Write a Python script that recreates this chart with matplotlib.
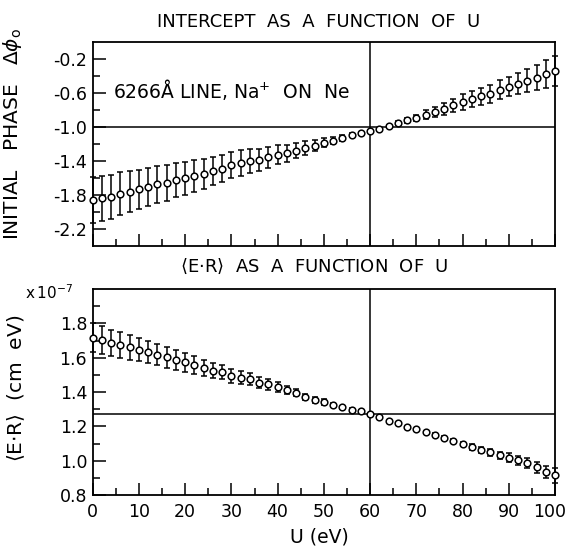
import numpy as np
import matplotlib
matplotlib.use("Agg")
import matplotlib.pyplot as plt
import matplotlib.transforms as mtransforms
from matplotlib.ticker import MultipleLocator

plt.rcParams['font.family'] = ['DejaVu Sans']
plt.rcParams['axes.unicode_minus'] = False
plt.rcParams['mathtext.fontset'] = 'dejavusans'

# impact energy U (eV)
u = [0, 2, 4, 6, 8, 10, 12, 14, 16, 18, 20, 22, 24, 26, 28, 30, 32, 34, 36, 38,
     40, 42, 44, 46, 48, 50, 52, 54, 56, 58, 60, 62, 64, 66, 68, 70, 72, 74, 76, 78,
     80, 82, 84, 86, 88, 90, 92, 94, 96, 98, 100]

# initial phase (intercept) and its error
phase = [-1.861, -1.838, -1.823, -1.784, -1.761, -1.734, -1.707, -1.676, -1.657, -1.629,
         -1.606, -1.579, -1.553, -1.521, -1.490, -1.452, -1.425, -1.406, -1.386, -1.359,
         -1.328, -1.309, -1.282, -1.251, -1.220, -1.185, -1.162, -1.135, -1.097, -1.078,
         -1.050, -1.020, -0.988, -0.950, -0.922, -0.896, -0.857, -0.826, -0.788, -0.749,
         -0.710, -0.675, -0.640, -0.610, -0.562, -0.527, -0.492, -0.459, -0.421, -0.382,
         -0.343]
phase_err = [0.27, 0.263, 0.26, 0.25, 0.24, 0.23, 0.22, 0.215, 0.21, 0.20,
             0.195, 0.185, 0.175, 0.165, 0.16, 0.155, 0.15, 0.14, 0.13, 0.12,
             0.11, 0.10, 0.09, 0.08, 0.065, 0.055, 0.045, 0.035, 0.025, 0.018,
             0.01, 0.01, 0.015, 0.02, 0.03, 0.04, 0.05, 0.064, 0.07, 0.08,
             0.09, 0.095, 0.10, 0.105, 0.11, 0.115, 0.125, 0.135, 0.145, 0.165,
             0.18]

# <E.R> in units of 1e-7 cm eV and its error
er = [1.717, 1.704, 1.685, 1.675, 1.660, 1.646, 1.633, 1.618, 1.602, 1.589,
      1.573, 1.555, 1.540, 1.525, 1.516, 1.492, 1.483, 1.473, 1.454, 1.444,
      1.429, 1.412, 1.396, 1.371, 1.354, 1.342, 1.325, 1.310, 1.295, 1.287,
      1.271, 1.252, 1.229, 1.217, 1.198, 1.185, 1.165, 1.152, 1.133, 1.117,
      1.098, 1.079, 1.064, 1.050, 1.031, 1.017, 1.002, 0.987, 0.963, 0.935,
      0.915]
er_err = [0.084, 0.08, 0.078, 0.075, 0.072, 0.068, 0.066, 0.063, 0.06, 0.058,
          0.055, 0.052, 0.049, 0.046, 0.043, 0.04, 0.037, 0.035, 0.032, 0.03,
          0.027, 0.025, 0.022, 0.02, 0.017, 0.015, 0.012, 0.01, 0.01, 0.008,
          0.006, 0.004, 0.0, 0.0, 0.0, 0.0, 0.005, 0.008, 0.01, 0.01,
          0.012, 0.016, 0.018, 0.02, 0.022, 0.025, 0.028, 0.03, 0.032, 0.035,
          0.044]

u_ref = 60
phase_ref = -1.0
er_ref = 1.271

u_ticks = [0, 10, 20, 30, 40, 50, 60, 70, 80, 90, 100]
phase_ticks = [-0.2, -0.6, -1.0, -1.4, -1.8, -2.2]
er_ticks = [0.8, 1.0, 1.2, 1.4, 1.6, 1.8]

W, H = 568, 548
fig = plt.figure(figsize=(W / 100, H / 100), dpi=100)
ax1 = fig.add_axes([92.7 / W, 1 - 246 / H, 462.3 / W, 204.3 / H])
ax2 = fig.add_axes([92.7 / W, 1 - 495 / H, 462.3 / W, 206 / H])


def draw_points(ax, x, y, err):
    x = np.asarray(x)
    y = np.asarray(y)
    err = np.asarray(err)
    has_err = err > 0
    ax.errorbar(x[has_err], y[has_err], yerr=err[has_err], fmt='none',
                ecolor='black', elinewidth=1.1, capsize=2.4, capthick=1.1,
                clip_on=False, zorder=3)
    ax.plot(x, y, 'o', ms=4.8, mfc='white', mec='black', mew=1.1,
            clip_on=False, zorder=4)


def style_axis(ax):
    ax.set_xlim(0, 100)
    ax.set_xticks(u_ticks)
    ax.xaxis.set_minor_locator(MultipleLocator(5))
    ax.tick_params(which='both', direction='in', top=False, right=False,
                   width=1.1, colors='black')
    ax.tick_params(which='major', length=9)
    ax.tick_params(which='minor', length=5)
    ax.tick_params(axis='y', labelsize=12.5, pad=4)
    ax.tick_params(axis='x', labelsize=12.5, pad=6)
    for sp in ax.spines.values():
        sp.set_linewidth(1.3)


# top panel: intercept
draw_points(ax1, u, phase, phase_err)
ax1.axvline(u_ref, color='black', lw=1.1, zorder=2)
ax1.axhline(phase_ref, color='black', lw=1.1, zorder=2)
style_axis(ax1)
ax1.set_ylim(-2.4, 0.0)
ax1.set_yticks(phase_ticks)
ax1.set_yticks([-0.4, -0.8, -1.2, -1.6, -2.0], minor=True)
ax1.tick_params(axis='x', labelbottom=False)
ax1.text(4.4, -0.565, '6266Å LINE, Na$^{+}$  ON  Ne', fontsize=13.5,
         va='center', ha='left')

# bottom panel: <E.R>
draw_points(ax2, u, er, er_err)
ax2.axvline(u_ref, color='black', lw=1.1, zorder=2)
ax2.axhline(er_ref, color='black', lw=1.1, zorder=2)
style_axis(ax2)
ax2.set_ylim(0.8, 2.0)
ax2.set_yticks(er_ticks)
ax2.set_yticks([0.9, 1.1, 1.3, 1.5, 1.7, 1.9], minor=True)

# keep the "100" label inside the figure edge
last = ax2.get_xticklabels()[-1]
shift = mtransforms.ScaledTranslation(-5 / 100, 0, fig.dpi_scale_trans)
last.set_transform(last.get_transform() + shift)

# titles and labels
fig.text(319 / W, 1 - 21.7 / H, 'INTERCEPT  AS  A  FUNCTION  OF  U',
         fontsize=13, ha='center', va='center')
fig.text(314 / W, 1 - 266.7 / H,
         r'$\langle$E$\cdot$R$\rangle$  AS  A  FUNCTION  OF  U',
         fontsize=13, ha='center', va='center')
fig.text(13 / W, 1 - 134 / H, r'INITIAL   PHASE   $\Delta\phi_{\mathrm{o}}$',
         fontsize=14.5, rotation=90, ha='center', va='center')
fig.text(16 / W, 1 - 388 / H, r'$\langle$E$\cdot$R$\rangle$  (cm  eV)',
         fontsize=14.5, rotation=90, ha='center', va='center')
fig.text(49 / W, 1 - 293 / H, r'x$\,10^{-7}$', fontsize=11,
         ha='center', va='center')
fig.text(319 / W, 1 - 537 / H, 'U (eV)', fontsize=13.5, ha='center',
         va='center')

fig.savefig('out.png', dpi=100)
